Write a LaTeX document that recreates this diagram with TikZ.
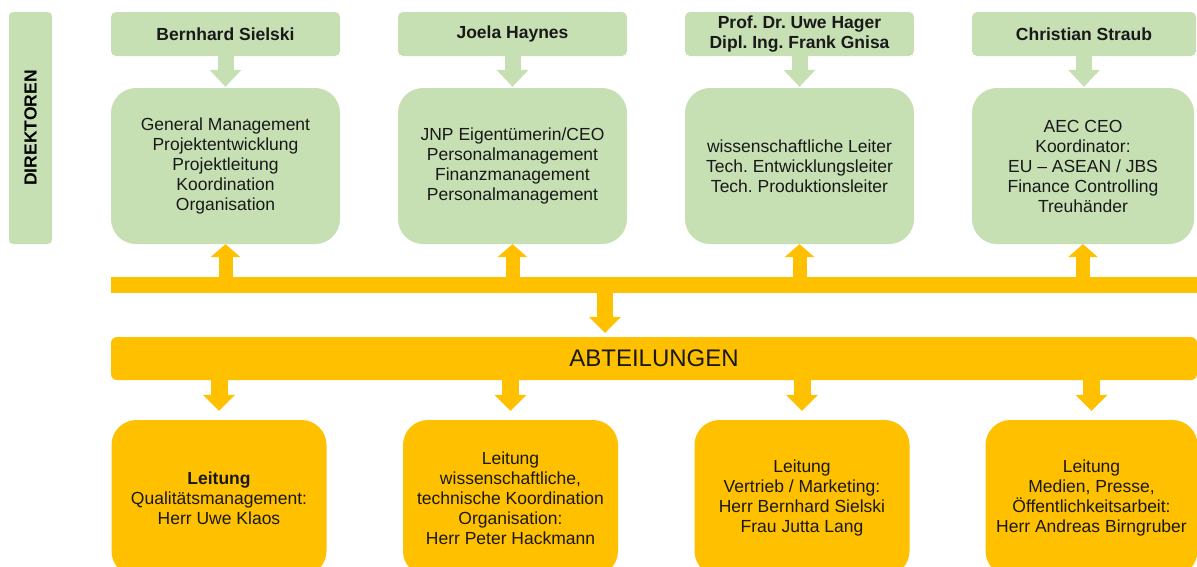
\documentclass[tikz,border=0pt]{standalone}
\usepackage{fontspec}
\setmainfont{Liberation Sans}
\usetikzlibrary{arrows.meta,calc}
\definecolor{lgreen}{HTML}{C6E0B4}
\definecolor{gold}{HTML}{FFC000}
\frenchspacing
\begin{document}
\begin{tikzpicture}[x=1pt,y=-1pt,
  txt/.style={font=\fontsize{17.5}{20}\selectfont, align=center, text=black!90},
  namebox/.style={txt, font=\fontsize{17.5}{20}\selectfont\bfseries, fill=lgreen, rounded corners=5pt, minimum width=229pt, minimum height=44pt, inner sep=0pt},
  mainbox/.style={txt, fill=lgreen, rounded corners=25pt, minimum width=229pt, minimum height=156pt, inner sep=0pt},
  abtbox/.style={txt, fill=gold, rounded corners=25pt, minimum width=215pt, minimum height=156pt, inner sep=0pt},
  garrow/.style={draw=lgreen, line width=16pt, -{Triangle[width=32pt,length=17pt,line width=0pt,fill=lgreen]}},
  oarrow/.style={draw=gold, line width=14pt, -{Triangle[width=30pt,length=13pt,line width=0pt,fill=gold]}},
  darrow/.style={draw=gold, line width=17pt, -{Triangle[width=32pt,length=16pt,line width=0pt,fill=gold]}}
]
\useasboundingbox (0,0) rectangle (1197,566);
\clip (0,0) rectangle (1197,566);

% Direktoren
\node[fill=lgreen, rounded corners=4pt, minimum width=43pt, minimum height=232pt, inner sep=0pt] (dir) at (30.5,128) {};
\node[font=\fontsize{17.5}{20}\selectfont\bfseries, rotate=90] (dirtxt) at (dir.center) {DIREKTOREN};

% name boxes
\node[namebox] (n1) at (225.5,34) {Bernhard Sielski};
\node[namebox] (n2) at (512.5,34) {Joela Haynes};
\node[namebox] (n3) at (799.5,34) {Prof. Dr. Uwe Hager\\Dipl. Ing. Frank Gnisa};
\node[namebox, minimum width=224pt] (n4) at (1084,34) {Christian Straub};

% main boxes
\node[mainbox] (m1) at (225.5,166) {General Management\\Projektentwicklung\\Projektleitung\\Koordination\\Organisation};
\node[mainbox] (m2) at (512.5,166) {JNP Eigentümerin/CEO\\Personalmanagement\\Finanzmanagement\\Personalmanagement};
\node[mainbox] (m3) at (799.5,166) {wissenschaftliche Leiter\\Tech. Entwicklungsleiter\\Tech. Produktionsleiter};
\node[mainbox, minimum width=222pt] (m4) at (1083,166) {AEC CEO\\Koordinator:\\EU – ASEAN / JBS\\Finance Controlling\\Treuhänder};

% horizontal bar
\node[fill=gold, minimum width=1086pt, minimum height=16pt, inner sep=0pt] (bar) at (654,285) {};

% Abteilungen
\node[fill=gold, rounded corners=6pt, minimum width=1086pt, minimum height=43pt, inner sep=0pt, font=\fontsize{24}{28}\selectfont, text=black!90] (abt) at (654,358.5) {ABTEILUNGEN};

% bottom boxes
\node[abtbox] (b1) at (219,498) {\textbf{Leitung}\\Qualitätsmanagement:\\Herr Uwe Klaos};
\node[abtbox] (b2) at (510.5,498) {Leitung\\wissenschaftliche,\\technische Koordination\\Organisation:\\Herr Peter Hackmann};
\node[abtbox] (b3) at (802,498) {Leitung\\Vertrieb / Marketing:\\Herr Bernhard Sielski\\Frau Jutta Lang};
\node[abtbox, minimum width=212pt] (b4) at (1091.5,498) {Leitung\\Medien, Presse,\\Öffentlichkeitsarbeit:\\Herr Andreas Birngruber};

% arrows
\foreach \i in {1,2,3,4} {
  \draw[garrow, shorten >=1pt] (n\i.south) -- (n\i.south |- m\i.north);
  \draw[oarrow] (m\i.south |- bar.north) -- (m\i.south);
  \draw[darrow, shorten >=9pt] (b\i.north |- abt.south) -- (b\i.north);
}
\coordinate (cdown) at (605,293);
\draw[darrow, line width=16pt, shorten >=4pt] (bar.south -| cdown) -- (abt.north -| cdown);
\end{tikzpicture}
\end{document}
